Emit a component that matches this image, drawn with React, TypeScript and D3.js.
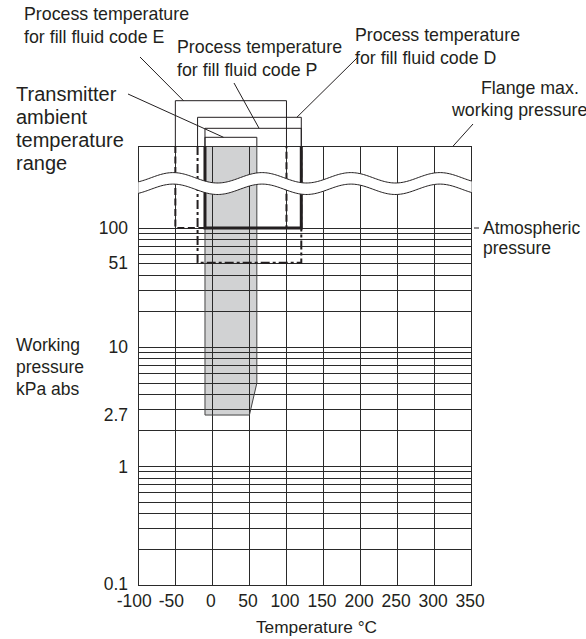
import React from "react";
import * as d3 from "d3";

// temperature axis (°C)
const tempTicks = [-100, -50, 0, 50, 100, 150, 200, 250, 300, 350];
// labelled working pressures (kPa abs)
const pressureTicks = [0.1, 1, 2.7, 10, 51, 100];
const pressureLabels = ["0.1", "1", "2.7", "10", "51", "100"];

// process temperature ranges per fill fluid code (upper end = flange max. working pressure)
const fillCodes = ["E", "D", "P"];
const fillTMin = [-50, -20, -10];
const fillTMax = [100, 120, 120];
const fillPMin = [100, 51, 100];

// transmitter ambient temperature range
const ambientT = [-10, 60];
const ambientCornerT = [60, 50];
const ambientCornerP = [5, 2.7];

const W = 586;
const H = 639;
const plotTop = 146;
const font = "'Liberation Sans', Arial, sans-serif";
const ink = "#231f20";

const App = () => {
  const x = d3.scaleLinear().domain([-100, 350]).range([138.3, 471.7]);
  const y = d3.scaleLog().domain([0.1, 100]).range([585.7, 228]);
  const yAt = (p: number) => (p > 100 ? plotTop : y(p));
  const x0 = x(-100);
  const x1 = x(350);
  const yBottom = y(0.1);

  // box outlines rise above the plot to meet the leaders
  const riseE = 45.3;
  const riseD = 28.7;
  const riseP = 17.7;
  const riseAmb = 8.7;

  const ambientPoly: [number, number][] = [
    [x(ambientT[0]), plotTop],
    [x(ambientT[1]), plotTop],
    [x(ambientCornerT[0]), y(ambientCornerP[0])],
    [x(ambientCornerT[1]), y(ambientCornerP[1])],
    [x(ambientT[0]), y(ambientCornerP[1])],
  ];

  // axis break wave
  const waveT = d3.range(-100, 351, 2);
  const waveY = (t: number) => 177.8 - 5.2 * Math.cos((2 * Math.PI * (t + 53)) / 120);
  const gap = 11.5;
  const upper = waveT.map((t) => [x(t), waveY(t)] as [number, number]);
  const lower = waveT.map((t) => [x(t), waveY(t) + gap] as [number, number]);
  const line = d3.line();
  const band = line([...upper, ...lower.slice().reverse()]) + "Z";

  const gridP = y.ticks();

  const styles: Record<string, { dash?: string; w: number }> = {
    E: { dash: "7,3.5", w: 2 },
    D: { dash: "9,3,3,3", w: 2 },
    P: { w: 3 },
  };
  const rises: Record<string, number> = { E: riseE, D: riseD, P: riseP };

  const txt = { fontFamily: font, fill: ink } as const;

  return (
    <svg width={W} height={H} style={{ position: "absolute", left: 0, top: 0, background: "#fff" }}>
      {/* ambient range fill */}
      <path d={line(ambientPoly) + "Z"} fill="#d1d2d3" stroke="none" />

      {/* grid */}
      <g stroke="#2a2a2a" strokeWidth={1} shapeRendering="crispEdges">
        {tempTicks.map((t) => (
          <line key={"v" + t} x1={x(t)} x2={x(t)} y1={plotTop} y2={yBottom} />
        ))}
        {gridP.map((p, i) => (
          <line key={"h" + i} x1={x0} x2={x1} y1={y(p)} y2={y(p)} />
        ))}
        <line x1={x0} x2={x1} y1={plotTop} y2={plotTop} />
      </g>

      {/* ambient outline */}
      <path d={line(ambientPoly) + "Z"} fill="none" stroke="#444" strokeWidth={1} />
      <path
        d={`M${x(ambientT[0])},${plotTop}V${plotTop - riseAmb}H${x(ambientT[1])}V${plotTop}`}
        fill="#fff"
        stroke={ink}
        strokeWidth={1}
      />

      {/* process temperature boxes */}
      {fillCodes.map((c, i) => {
        const xa = x(fillTMin[i]);
        const xb = x(fillTMax[i]);
        const yb = yAt(fillPMin[i]);
        const s = styles[c];
        return (
          <g key={c} fill="none" stroke={ink}>
            <path
              d={`M${xa},${plotTop}V${plotTop - rises[c]}H${xb}V${plotTop}`}
              strokeWidth={1}
            />
            <path
              d={`M${xa},${plotTop}V${yb}H${xb}V${plotTop}`}
              strokeWidth={s.w}
              strokeDasharray={s.dash}
            />
          </g>
        );
      })}

      {/* axis break */}
      <path d={band} fill="#fff" stroke="none" />
      <path d={line(upper) ?? ""} fill="none" stroke={ink} strokeWidth={1} />
      <path d={line(lower) ?? ""} fill="none" stroke={ink} strokeWidth={1} />

      {/* leaders */}
      <g stroke={ink} strokeWidth={1}>
        <line x1={128} y1={94} x2={x(15)} y2={plotTop - riseAmb} />
        <line x1={140} y1={57} x2={x(-39)} y2={plotTop - riseE} />
        <line x1={234} y1={83} x2={x(63)} y2={plotTop - riseP} />
        <line x1={357} y1={58} x2={x(114)} y2={plotTop - riseD} />
        <line x1={473} y1={124} x2={x(325)} y2={plotTop} />
        <line x1={474} y1={y(100)} x2={479} y2={y(100)} />
      </g>

      {/* y tick labels */}
      {pressureTicks.map((p, i) => (
        <text
          key={p}
          x={128}
          y={y(p) - (p === 0.1 ? 2 : 0)}
          dy="0.35em"
          textAnchor="end"
          fontSize={17.5}
          {...txt}
        >
          {pressureLabels[i]}
        </text>
      ))}

      {/* x tick labels */}
      {tempTicks.map((t) => (
        <text key={t} x={x(t) - (t < 0 ? 4 : 1.5)} y={607} textAnchor="middle" fontSize={17.5} {...txt}>
          {t}
        </text>
      ))}
      <text x={316.5} y={633} textAnchor="middle" fontSize={17.3} {...txt}>
        Temperature °C
      </text>

      {/* y axis title */}
      <text fontSize={17.5} {...txt}>
        <tspan x={16} y={351}>Working</tspan>
        <tspan x={16} y={373}>pressure</tspan>
        <tspan x={16} y={395}>kPa abs</tspan>
      </text>

      {/* annotations */}
      <text fontSize={17.8} {...txt}>
        <tspan x={24} y={20}>Process temperature</tspan>
        <tspan x={24} y={43}>for fill fluid code E</tspan>
      </text>
      <text fontSize={17.8} {...txt}>
        <tspan x={177} y={53}>Process temperature</tspan>
        <tspan x={177} y={76}>for fill fluid code P</tspan>
      </text>
      <text fontSize={17.8} {...txt}>
        <tspan x={355} y={41}>Process temperature</tspan>
        <tspan x={355} y={64}>for fill fluid code D</tspan>
      </text>
      <text fontSize={17.8} {...txt}>
        <tspan x={481} y={94}>Flange max.</tspan>
        <tspan x={452} y={116}>working pressure</tspan>
      </text>
      <text fontSize={20} {...txt}>
        <tspan x={16} y={101}>Transmitter</tspan>
        <tspan x={16} y={124}>ambient</tspan>
        <tspan x={16} y={147}>temperature</tspan>
        <tspan x={16} y={170}>range</tspan>
      </text>
      <text fontSize={17.5} {...txt}>
        <tspan x={483} y={234}>Atmospheric</tspan>
        <tspan x={483} y={254}>pressure</tspan>
      </text>
    </svg>
  );
};

export default App;
